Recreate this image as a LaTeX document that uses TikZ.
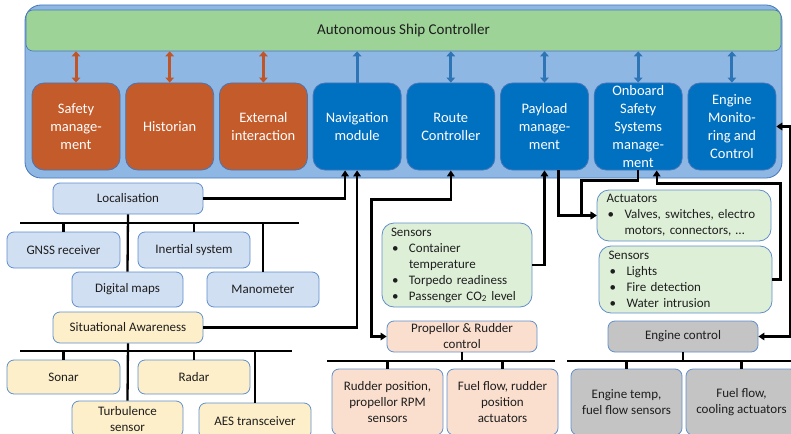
\documentclass[tikz,border=0pt]{standalone}
\usepackage{fontspec}
\setmainfont{Carlito}
\usepackage{tikz}
\usetikzlibrary{arrows.meta,calc}

\definecolor{frameblue}{RGB}{143,183,227}
\definecolor{framedge}{RGB}{70,118,186}
\definecolor{bargreen}{RGB}{158,211,152}
\definecolor{modorange}{RGB}{196,91,42}
\definecolor{modblue}{RGB}{0,112,192}
\definecolor{arrorange}{RGB}{192,86,40}
\definecolor{arrblue}{RGB}{46,117,182}
\definecolor{boxedge}{RGB}{96,143,204}
\definecolor{locblue}{RGB}{209,223,242}
\definecolor{sayellow}{RGB}{253,239,201}
\definecolor{sensegreen}{RGB}{222,239,216}
\definecolor{peach}{RGB}{251,223,206}
\definecolor{enggray}{RGB}{196,196,196}
\definecolor{ink}{RGB}{30,30,30}

\newcommand{\bul}{\makebox[18pt][l]{\hspace{1pt}\textbullet}}

\begin{document}
\begin{tikzpicture}[x=1pt,y=-1pt,font=\fontsize{13}{16}\selectfont,
  box/.style={draw=boxedge,line width=0.8pt,rounded corners=7pt,inner sep=1pt,align=center,text=ink},
  module/.style={draw=framedge,line width=0.8pt,rounded corners=12pt,minimum width=88pt,minimum height=87pt,
    inner sep=0pt,text=white,align=center,font=\fontsize{14.5}{18}\selectfont},
  listbox/.style={box,rounded corners=12pt,align=left,inner xsep=9pt},
  link/.style={line width=3pt,>={Triangle[length=5pt,width=8.5pt]}},
  conn/.style={line width=2.3pt,>={Triangle[length=6pt,width=7.5pt]}},
  bus/.style={line width=2.3pt}]
  \clip (0,0) rectangle (791,433);

  % controller frame
  \node[draw=framedge,fill=frameblue,line width=0.8pt,rounded corners=16pt,minimum width=757pt,minimum height=173pt,inner sep=0pt] (frame) at (403.5,91.5) {};
  \node[draw=framedge,fill=bargreen,line width=0.6pt,rounded corners=7pt,minimum width=755pt,minimum height=41pt,
    font=\fontsize{15}{18}\selectfont,text=ink] (bar) at (403.5,30.5) {Autonomous Ship Controller};
  \foreach \n/\t/\c [count=\i from 0] in {safety/{Safety\\manage-\\ment}/modorange,historian/Historian/modorange,
      external/{External\\interaction}/modorange,navigation/{Navigation\\module}/modblue,route/{Route\\Controller}/modblue,
      payload/{Payload\\manage-\\ment}/modblue,onboard/{Onboard\\Safety\\Systems\\manage-\\ment}/modblue,
      engine/{Engine\\Monito-\\ring and\\Control}/modblue}
    \node[module,fill=\c] (\n) at (76+93.7*\i,126.5) {\t};
  \foreach \n in {safety,historian,external}
    \draw[link,arrorange,<->] (\n.north |- bar.south) -- (\n.north);
  \foreach \n in {route,payload,onboard,engine}
    \draw[link,arrblue,<->] (\n.north |- bar.south) -- (\n.north);
  \draw[link,arrblue,<-] (navigation.north |- bar.south) -- (navigation.north);

  % localisation and situational awareness
  \node[box,fill=locblue,minimum width=150pt,minimum height=31pt] (loc) at (128,198.5) {Localisation};
  \node[box,fill=locblue,minimum width=113pt,minimum height=36pt] (gnss) at (63.5,250) {GNSS receiver};
  \node[box,fill=locblue,minimum width=112pt,minimum height=36pt] (inertial) at (194,250) {Inertial system};
  \node[box,fill=locblue,minimum width=111pt,minimum height=35pt] (maps) at (127.5,289.5) {Digital maps};
  \node[box,fill=locblue,minimum width=112pt,minimum height=35pt] (mano) at (263,289.5) {Manometer};
  \node[box,fill=sayellow,minimum width=150pt,minimum height=31pt] (sa) at (128,327.5) {Situational Awareness};
  \node[box,fill=sayellow,minimum width=113pt,minimum height=34pt] (sonar) at (63.5,377) {Sonar};
  \node[box,fill=sayellow,minimum width=112pt,minimum height=34pt] (radar) at (194,377) {Radar};
  \node[box,fill=sayellow,minimum width=111pt,minimum height=36pt] (turb) at (127.5,419) {Turbulence\\sensor};
  \node[box,fill=sayellow,minimum width=112pt,minimum height=36pt] (aes) at (255,421) {AES transceiver};
  \coordinate (bus1w) at (20,223); \coordinate (bus1e) at (299,223);
  \coordinate (bus2w) at (20,351); \coordinate (bus2e) at (292,351);
  \draw[bus] (bus1w) -- (bus1e);
  \draw[bus] (loc.south) -- (maps.north);
  \foreach \n in {gnss,inertial,mano} \draw[bus] (\n.north) -- (\n.north |- bus1w);
  \draw[bus] (bus2w) -- (bus2e);
  \draw[bus] (sa.south) -- (turb.north);
  \foreach \n in {sonar,radar,aes} \draw[bus] (\n.north) -- (\n.north |- bus2w);

  % payload, propellor and rudder
  \node[listbox,fill=sensegreen,minimum width=150pt,minimum height=84pt,text width=132pt] (ps) at (457,265)
    {Sensors\\\bul Container\\\hspace*{18pt}temperature\\\bul Torpedo readiness\\\bul Passenger CO\textsubscript{2} level};
  \node[box,fill=peach,minimum width=150pt,minimum height=31pt] (prc) at (462,336.5) {Propellor \& Rudder\\control};
  \node[box,fill=peach,minimum width=111pt,minimum height=66pt] (rudsens) at (387.5,402) {Rudder position,\\propellor RPM\\sensors};
  \node[box,fill=peach,minimum width=111pt,minimum height=66pt] (fuelrud) at (502.5,402) {Fuel flow, rudder\\position\\actuators};
  \coordinate (bus3w) at (327,361); \coordinate (bus3e) at (555,361);
  \draw[bus] (bus3w) -- (bus3e);
  \draw[bus] (prc.south) -- (prc.south |- bus3w);
  \foreach \n in {rudsens,fuelrud} \draw[bus] (\n.north) -- (\n.north |- bus3w);

  % onboard safety and engine
  \node[listbox,fill=sensegreen,minimum width=174pt,minimum height=51pt,text width=155pt] (act) at (684,215.5)
    {Actuators\\\bul Valves, switches, electro\\\hspace*{18pt}motors, connectors, …};
  \node[listbox,fill=sensegreen,minimum width=173pt,minimum height=67pt,text width=154pt] (ss) at (685.5,279.5)
    {Sensors\\\bul Lights\\\bul Fire detection\\\bul Water intrusion};
  \node[box,fill=enggray,minimum width=150pt,minimum height=31pt] (ec) at (683,336.5) {Engine control};
  \node[box,fill=enggray,minimum width=111pt,minimum height=66pt] (etemp) at (626.5,402) {Engine temp,\\fuel flow sensors};
  \node[box,fill=enggray,minimum width=111pt,minimum height=66pt] (fcool) at (741.5,402) {Fuel flow,\\cooling actuators};
  \coordinate (bus4w) at (567,361); \coordinate (bus4e) at (791,361);
  \draw[bus] (bus4w) -- (bus4e);
  \draw[bus] (ec.south) -- (ec.south |- bus4w);
  \foreach \n in {etemp,fcool} \draw[bus] (\n.north) -- (\n.north |- bus4w);

  % connectors to the controller
  \draw[conn,->] (loc.east) -| ([xshift=-12pt]navigation.south);
  \draw[conn,->] (sa.east) -| (navigation.south);
  \draw[conn,<->] (route.south) -- ++(0,29) -| ([xshift=-15pt]prc.west) -- (prc.west);
  \draw[conn,->] (ps.east) -| (payload.south);
  \draw[conn,->] ([xshift=14pt]payload.south) |- (act.west);
  \draw[conn,->] (onboard.south) -- ++(0,10) -| ([xshift=-15pt]act.west) -- (act.west);
  \draw[conn,->] (ss.east) -- ++(8,0) |- ($(onboard.south)+(18.5,13)$) -- ++(0,-13);
  \draw[conn,<->] (engine.east) -- ++(14,0) |- (ec.east);
\end{tikzpicture}
\end{document}
